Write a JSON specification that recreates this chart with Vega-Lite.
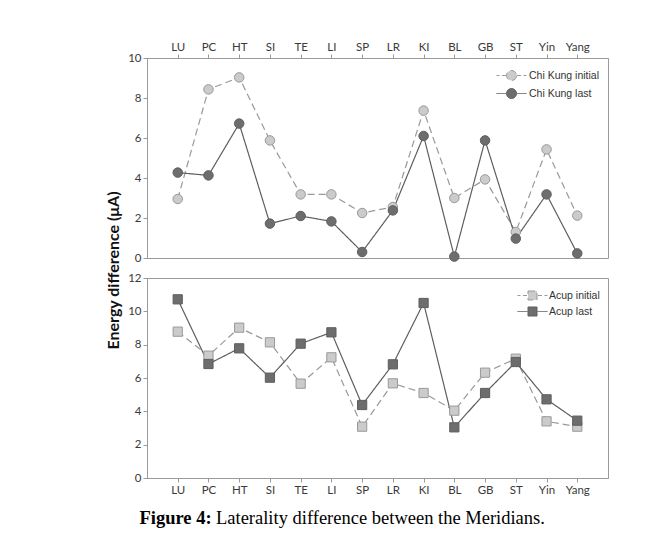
{
  "$schema": "https://vega.github.io/schema/vega-lite/v6.json",
  "background": "white",
  "padding": {"left": 104, "top": 40, "right": 5, "bottom": 5},
  "spacing": 20,
  "bounds": "flush",
  "resolve": {
    "scale": {"stroke": "independent", "fill": "independent", "strokeDash": "independent"},
    "legend": {"stroke": "independent", "fill": "independent", "strokeDash": "independent"}
  },
  "datasets": {
    "chi": [
      {"m": "LU", "s": "Chi Kung initial", "v": 2.95},
      {"m": "PC", "s": "Chi Kung initial", "v": 8.43},
      {"m": "HT", "s": "Chi Kung initial", "v": 9.03},
      {"m": "SI", "s": "Chi Kung initial", "v": 5.88},
      {"m": "TE", "s": "Chi Kung initial", "v": 3.18},
      {"m": "LI", "s": "Chi Kung initial", "v": 3.18},
      {"m": "SP", "s": "Chi Kung initial", "v": 2.25},
      {"m": "LR", "s": "Chi Kung initial", "v": 2.55},
      {"m": "KI", "s": "Chi Kung initial", "v": 7.37},
      {"m": "BL", "s": "Chi Kung initial", "v": 3.0},
      {"m": "GB", "s": "Chi Kung initial", "v": 3.93},
      {"m": "ST", "s": "Chi Kung initial", "v": 1.3},
      {"m": "Yin", "s": "Chi Kung initial", "v": 5.43},
      {"m": "Yang", "s": "Chi Kung initial", "v": 2.12},
      {"m": "LU", "s": "Chi Kung last", "v": 4.27},
      {"m": "PC", "s": "Chi Kung last", "v": 4.13},
      {"m": "HT", "s": "Chi Kung last", "v": 6.72},
      {"m": "SI", "s": "Chi Kung last", "v": 1.72},
      {"m": "TE", "s": "Chi Kung last", "v": 2.1},
      {"m": "LI", "s": "Chi Kung last", "v": 1.83},
      {"m": "SP", "s": "Chi Kung last", "v": 0.3},
      {"m": "LR", "s": "Chi Kung last", "v": 2.38},
      {"m": "KI", "s": "Chi Kung last", "v": 6.1},
      {"m": "BL", "s": "Chi Kung last", "v": 0.07},
      {"m": "GB", "s": "Chi Kung last", "v": 5.88},
      {"m": "ST", "s": "Chi Kung last", "v": 0.97},
      {"m": "Yin", "s": "Chi Kung last", "v": 3.18},
      {"m": "Yang", "s": "Chi Kung last", "v": 0.23}
    ],
    "acup": [
      {"m": "LU", "s": "Acup initial", "v": 8.78},
      {"m": "PC", "s": "Acup initial", "v": 7.34},
      {"m": "HT", "s": "Acup initial", "v": 9.02},
      {"m": "SI", "s": "Acup initial", "v": 8.14},
      {"m": "TE", "s": "Acup initial", "v": 5.66},
      {"m": "LI", "s": "Acup initial", "v": 7.24},
      {"m": "SP", "s": "Acup initial", "v": 3.08},
      {"m": "LR", "s": "Acup initial", "v": 5.68},
      {"m": "KI", "s": "Acup initial", "v": 5.1},
      {"m": "BL", "s": "Acup initial", "v": 4.04},
      {"m": "GB", "s": "Acup initial", "v": 6.32},
      {"m": "ST", "s": "Acup initial", "v": 7.16},
      {"m": "Yin", "s": "Acup initial", "v": 3.4},
      {"m": "Yang", "s": "Acup initial", "v": 3.08},
      {"m": "LU", "s": "Acup last", "v": 10.72},
      {"m": "PC", "s": "Acup last", "v": 6.84},
      {"m": "HT", "s": "Acup last", "v": 7.78},
      {"m": "SI", "s": "Acup last", "v": 6.02},
      {"m": "TE", "s": "Acup last", "v": 8.06},
      {"m": "LI", "s": "Acup last", "v": 8.74},
      {"m": "SP", "s": "Acup last", "v": 4.38},
      {"m": "LR", "s": "Acup last", "v": 6.82},
      {"m": "KI", "s": "Acup last", "v": 10.5},
      {"m": "BL", "s": "Acup last", "v": 3.04},
      {"m": "GB", "s": "Acup last", "v": 5.1},
      {"m": "ST", "s": "Acup last", "v": 6.96},
      {"m": "Yin", "s": "Acup last", "v": 4.72},
      {"m": "Yang", "s": "Acup last", "v": 3.44}
    ]
  },
  "config": {
    "view": {"stroke": "#9a9a9a", "strokeWidth": 1},
    "axis": {
      "labelFont": "Lato", "labelFontSize": 11.5, "labelColor": "#3a3a3a",
      "domainColor": "#9a9a9a", "tickColor": "#9a9a9a", "tickSize": 4,
      "grid": false, "labelPadding": 2
    },
    "legend": {
      "orient": "none", "title": null, "padding": 0, "symbolSize": 100,
      "rowPadding": 3, "labelFont": "Liberation Sans", "labelFontSize": 10.5,
      "labelColor": "#333", "symbolStrokeWidth": 1
    }
  },
  "vconcat": [
    {
      "width": 461,
      "height": 200,
      "data": {"name": "chi"},
      "encoding": {
        "x": {
          "field": "m", "type": "nominal", "sort": null,
          "scale": {"type": "point", "domain": ["LU","PC","HT","SI","TE","LI","SP","LR","KI","BL","GB","ST","Yin","Yang"], "padding": 1.03},
          "axis": {"orient": "top", "title": null, "labelAngle": 0}
        },
        "y": {
          "field": "v", "type": "quantitative",
          "scale": {"domain": [0, 10]},
          "axis": {
            "values": [0, 2, 4, 6, 8, 10], "title": "Energy difference (μA)",
            "titleFont": "Lato", "titleFontSize": 16, "titleFontWeight": "bold", "titleColor": "#111",
            "titleX": -34, "titleY": 212, "titleAngle": 270, "titleBaseline": "middle", "titleAlign": "center"
          }
        }
      },
      "layer": [
        {
          "mark": {"type": "line", "strokeWidth": 1.2},
          "encoding": {
            "stroke": {
              "field": "s", "type": "nominal",
              "scale": {"domain": ["Chi Kung initial", "Chi Kung last"], "range": ["#999999", "#5e5e5e"]},
              "legend": {
                "legendX": 359, "legendY": 12, "labelOffset": 12,
                "encode": {"symbols": {"update": {
                  "shape": {"signal": "datum.value === 'Chi Kung initial' ? 'M-3,0H-2.4M-1.9,0H-1.1M1.1,0H1.9M2.4,0H3M1,0A1,1 0 1,1 -1,0A1,1 0 1,1 1,0Z' : 'M-3,0H-1M1,0H3M1,0A1,1 0 1,1 -1,0A1,1 0 1,1 1,0Z'"},
                  "fill": {"signal": "datum.value === 'Chi Kung initial' ? '#cbcbcb' : '#6d6d6d'"},
                  "stroke": {"signal": "datum.value === 'Chi Kung initial' ? '#999999' : '#5e5e5e'"},
                  "strokeDash": {"value": [1, 0]},
                  "opacity": {"value": 1}, "size": {"value": 100}, "strokeWidth": {"value": 1}
                }}}
              }
            },
            "strokeDash": {"field": "s", "type": "nominal", "scale": {"domain": ["Chi Kung initial", "Chi Kung last"], "range": [[7, 4], [1, 0]]}}
          }
        },
        {
          "mark": {"type": "point", "shape": "circle", "filled": true, "size": 90, "strokeWidth": 1, "opacity": 1},
          "encoding": {
            "fill": {"field": "s", "type": "nominal", "scale": {"domain": ["Chi Kung initial", "Chi Kung last"], "range": ["#cbcbcb", "#6d6d6d"]}},
            "stroke": {"field": "s", "type": "nominal"}
          }
        }
      ]
    },
    {
      "width": 461,
      "height": 200,
      "data": {"name": "acup"},
      "title": {
        "text": "Laterality difference between the Meridians.", "orient": "bottom", "anchor": "start", "frame": "group",
        "dx": 69, "dy": -18, "offset": 0, "font": "Liberation Serif", "fontSize": 18.5,
        "fontWeight": "normal", "color": "#000000"
      },
      "encoding": {
        "x": {
          "field": "m", "type": "nominal", "sort": null,
          "scale": {"type": "point", "domain": ["LU","PC","HT","SI","TE","LI","SP","LR","KI","BL","GB","ST","Yin","Yang"], "padding": 1.03},
          "axis": {
            "orient": "bottom", "labelAngle": 0, "title": "Figure 4:",
            "titleFont": "Liberation Serif", "titleFontSize": 18.5, "titleFontWeight": "bold", "titleColor": "#000000",
            "titleX": -8, "titleY": 45, "titleAlign": "left", "titleBaseline": "alphabetic", "titleAnchor": null
          }
        },
        "y": {
          "field": "v", "type": "quantitative",
          "scale": {"domain": [0, 12]},
          "axis": {"values": [0, 2, 4, 6, 8, 10, 12], "title": null}
        }
      },
      "layer": [
        {
          "mark": {"type": "line", "strokeWidth": 1.2},
          "encoding": {
            "stroke": {
              "field": "s", "type": "nominal",
              "scale": {"domain": ["Acup initial", "Acup last"], "range": ["#999999", "#5e5e5e"]},
              "legend": {
                "legendX": 380, "legendY": 12, "labelOffset": 11,
                "encode": {"symbols": {"update": {
                  "shape": {"signal": "datum.value === 'Acup initial' ? 'M-3,0H-2.4M-1.9,0H-1.1M1.1,0H1.9M2.4,0H3M-0.9,-0.9H0.9V0.9H-0.9Z' : 'M-3,0H-1M1,0H3M-0.9,-0.9H0.9V0.9H-0.9Z'"},
                  "fill": {"signal": "datum.value === 'Acup initial' ? '#cbcbcb' : '#6d6d6d'"},
                  "stroke": {"signal": "datum.value === 'Acup initial' ? '#999999' : '#5e5e5e'"},
                  "strokeDash": {"value": [1, 0]},
                  "opacity": {"value": 1}, "size": {"value": 100}, "strokeWidth": {"value": 1}
                }}}
              }
            },
            "strokeDash": {"field": "s", "type": "nominal", "scale": {"domain": ["Acup initial", "Acup last"], "range": [[7, 4], [1, 0]]}}
          }
        },
        {
          "mark": {"type": "point", "shape": "square", "filled": true, "size": 85, "strokeWidth": 1, "opacity": 1},
          "encoding": {
            "fill": {"field": "s", "type": "nominal", "scale": {"domain": ["Acup initial", "Acup last"], "range": ["#cbcbcb", "#6d6d6d"]}},
            "stroke": {"field": "s", "type": "nominal"}
          }
        }
      ]
    }
  ]
}
